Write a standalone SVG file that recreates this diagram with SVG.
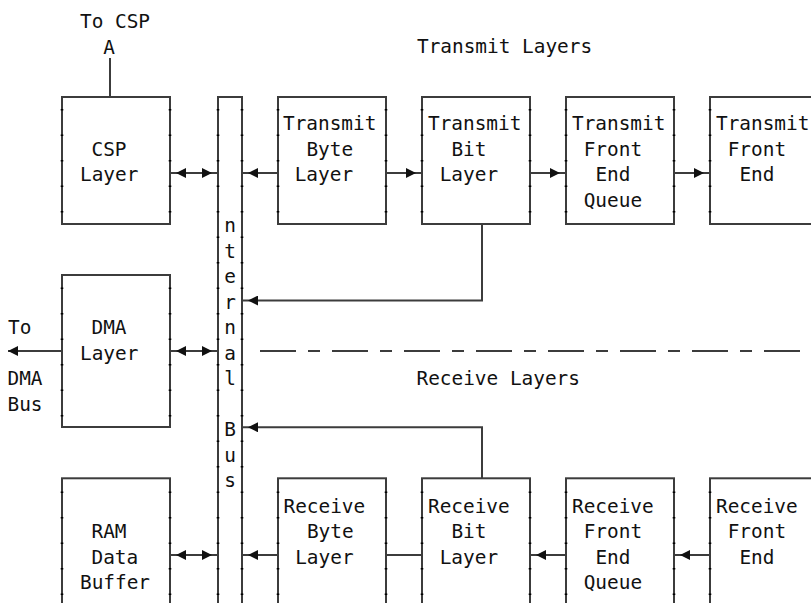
<svg xmlns="http://www.w3.org/2000/svg" width="811" height="603" viewBox="0 0 811 603">
<style>
.box{fill:#fff;stroke:#3c3c3c;stroke-width:2}
.tk{fill:none;stroke:#000;stroke-width:2.6;stroke-dasharray:1.6 23.9}
.t{font-family:"DejaVu Sans Mono","Liberation Mono",monospace;font-size:19.4px;fill:#111}
.c{fill:none;stroke:#3c3c3c;stroke-width:2}
.d{stroke-dasharray:36 12 12 12}
</style>
<defs>
<marker id="ah" viewBox="0 0 16 10" refX="16" refY="5" markerWidth="16" markerHeight="10" markerUnits="userSpaceOnUse" orient="auto-start-reverse"><path d="M0,0 L10,5 L0,10 z" fill="#111"/></marker>
<marker id="ah0" viewBox="0 0 10 10" refX="10" refY="5" markerWidth="10" markerHeight="10" markerUnits="userSpaceOnUse" orient="auto"><path d="M0,0 L10,5 L0,10 z" fill="#111"/></marker>
</defs>
<rect width="811" height="603" fill="#fff"/>

<text class="t" x="417" y="53.3">Transmit Layers</text>
<text class="t" x="416.5" y="385">Receive Layers</text>
<text class="t" x="80" y="28">To CSP</text>
<text class="t" x="103.3" y="53.5">A</text>
<text class="t" x="8" y="334">To</text>
<text class="t" x="7.5" y="385">DMA</text>
<text class="t" x="7.5" y="410.5">Bus</text>

<g id="connectors">
<path class="c" d="M110,97 V58"/>
<path class="c" d="M170,173 H218" marker-start="url(#ah)" marker-end="url(#ah)"/>
<path class="c" d="M278,173 H242" marker-end="url(#ah)"/>
<path class="c" d="M386,173 H422" marker-end="url(#ah)"/>
<path class="c" d="M530,173 H566" marker-end="url(#ah)"/>
<path class="c" d="M674,173 H710" marker-end="url(#ah)"/>
<path class="c" d="M482,224 V300.5 H242" marker-end="url(#ah)"/>
<path class="c" d="M62,351 H8" marker-end="url(#ah0)"/>
<path class="c" d="M170,351 H218" marker-start="url(#ah)" marker-end="url(#ah)"/>
<path class="c d" d="M260,351 H800"/>
<path class="c" d="M482,478.3 V427.3 H242" marker-end="url(#ah)"/>
<path class="c" d="M170,555 H218" marker-start="url(#ah)" marker-end="url(#ah)"/>
<path class="c" d="M278,555 H242" marker-end="url(#ah)"/>
<path class="c" d="M386,555 H422"/>
<path class="c" d="M566,555 H530" marker-end="url(#ah)"/>
<path class="c" d="M710,555 H674" marker-end="url(#ah)"/>
</g>

<g id="bus">
<rect class="box" x="218" y="97" width="24" height="520"/>
<path class="tk" d="M218,109 V603 M242,109 V603"/>
<text class="t" x="224.2" y="232">n</text>
<text class="t" x="224.2" y="257.5">t</text>
<text class="t" x="224.2" y="283">e</text>
<text class="t" x="224.2" y="308.5">r</text>
<text class="t" x="224.2" y="334">n</text>
<text class="t" x="224.2" y="359.5">a</text>
<text class="t" x="224.2" y="385">l</text>
<text class="t" x="224.2" y="436">B</text>
<text class="t" x="224.2" y="461.5">u</text>
<text class="t" x="224.2" y="487">s</text>
</g>

<g id="csp">
<rect class="box" x="62" y="97" width="108" height="127"/>
<path class="tk" d="M62,109 V224 M170,109 V224"/>
<text class="t" x="91.5" y="155.5">CSP</text>
<text class="t" x="80" y="181">Layer</text>
</g>

<g id="dma">
<rect class="box" x="62" y="275" width="108" height="152"/>
<path class="tk" d="M62,287.5 V427 M170,287.5 V427"/>
<text class="t" x="91.5" y="334">DMA</text>
<text class="t" x="80" y="359.5">Layer</text>
</g>

<g id="ram">
<rect class="box" x="62" y="478.3" width="108" height="140"/>
<path class="tk" d="M62,491.5 V603 M170,491.5 V603"/>
<text class="t" x="91.5" y="538">RAM</text>
<text class="t" x="91.5" y="563.5">Data</text>
<text class="t" x="80" y="589">Buffer</text>
</g>

<g id="tx-byte">
<rect class="box" x="278" y="97" width="108" height="127"/>
<path class="tk" d="M278,109 V224 M386,109 V224"/>
<text class="t" x="283" y="130">Transmit</text>
<text class="t" x="306.4" y="155.5">Byte</text>
<text class="t" x="294.7" y="181">Layer</text>
</g>

<g id="tx-bit">
<rect class="box" x="422" y="97" width="108" height="127"/>
<path class="tk" d="M422,109 V224 M530,109 V224"/>
<text class="t" x="428" y="130">Transmit</text>
<text class="t" x="451.4" y="155.5">Bit</text>
<text class="t" x="439.7" y="181">Layer</text>
</g>

<g id="tx-feq">
<rect class="box" x="566" y="97" width="108" height="127"/>
<path class="tk" d="M566,109 V224 M674,109 V224"/>
<text class="t" x="572" y="130">Transmit</text>
<text class="t" x="583.7" y="155.5">Front</text>
<text class="t" x="595.4" y="181">End</text>
<text class="t" x="583.7" y="206.5">Queue</text>
</g>

<g id="tx-fe">
<rect class="box" x="710" y="97" width="120" height="127"/>
<path class="tk" d="M710,109 V224"/>
<text class="t" x="716" y="130">Transmit</text>
<text class="t" x="727.7" y="155.5">Front</text>
<text class="t" x="739.4" y="181">End</text>
</g>

<g id="rx-byte">
<rect class="box" x="278" y="478.3" width="108" height="140"/>
<path class="tk" d="M278,491.5 V603 M386,491.5 V603"/>
<text class="t" x="283.5" y="512.5">Receive</text>
<text class="t" x="306.9" y="538">Byte</text>
<text class="t" x="295.2" y="563.5">Layer</text>
</g>

<g id="rx-bit">
<rect class="box" x="422" y="478.3" width="108" height="140"/>
<path class="tk" d="M422,491.5 V603 M530,491.5 V603"/>
<text class="t" x="428" y="512.5">Receive</text>
<text class="t" x="451.4" y="538">Bit</text>
<text class="t" x="439.7" y="563.5">Layer</text>
</g>

<g id="rx-feq">
<rect class="box" x="566" y="478.3" width="108" height="140"/>
<path class="tk" d="M566,491.5 V603 M674,491.5 V603"/>
<text class="t" x="572" y="512.5">Receive</text>
<text class="t" x="583.7" y="538">Front</text>
<text class="t" x="595.4" y="563.5">End</text>
<text class="t" x="583.7" y="589">Queue</text>
</g>

<g id="rx-fe">
<rect class="box" x="710" y="478.3" width="120" height="140"/>
<path class="tk" d="M710,491.5 V603"/>
<text class="t" x="716" y="512.5">Receive</text>
<text class="t" x="727.7" y="538">Front</text>
<text class="t" x="739.4" y="563.5">End</text>
</g>
</svg>
